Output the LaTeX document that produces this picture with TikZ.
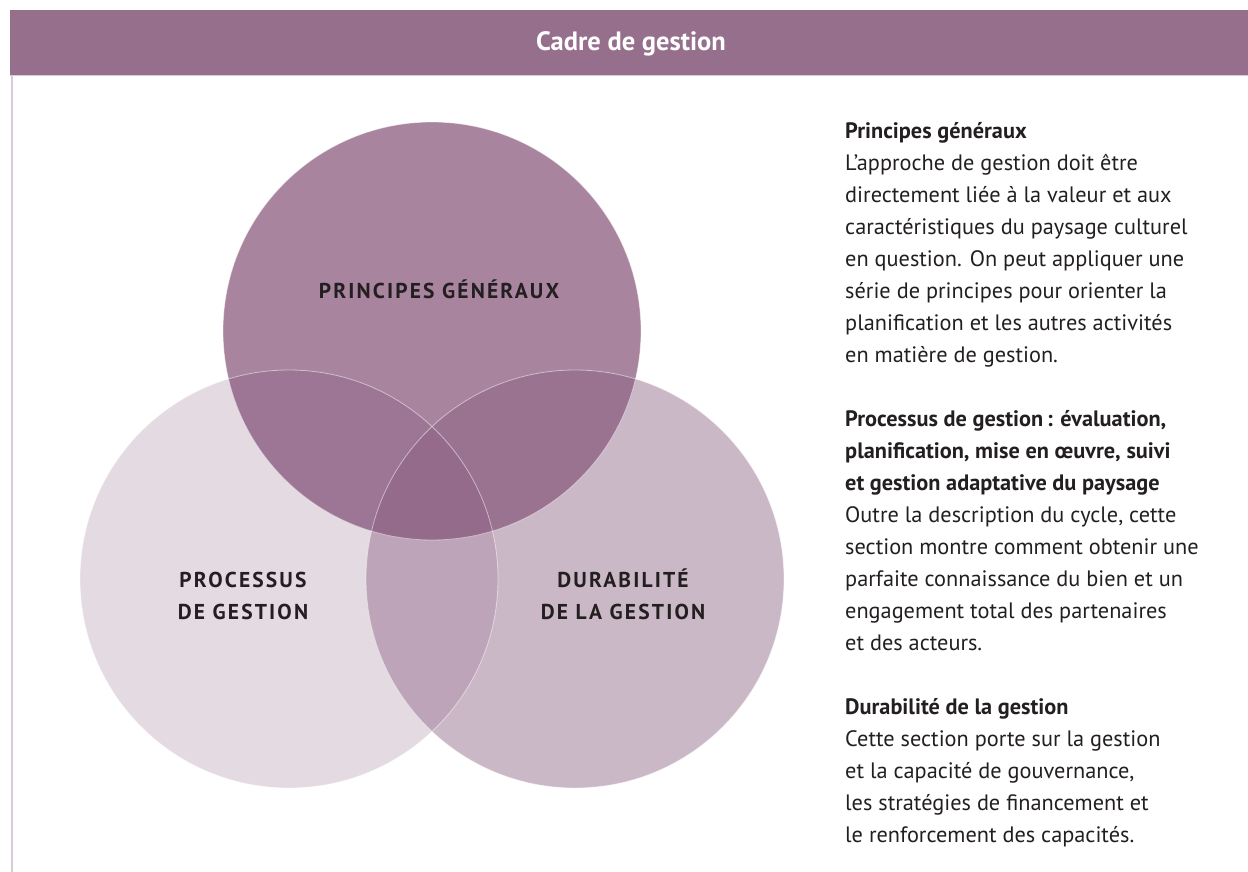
\documentclass[tikz,border=0pt]{standalone}
\usepackage{fontspec}
\setmainfont{PT Sans}
\newfontfamily\capsfont[LetterSpace=10]{PT Sans}
\definecolor{bandc}{HTML}{956F8B}
\definecolor{topc}{HTML}{A8849F}
\definecolor{leftc}{HTML}{E4DAE2}
\definecolor{rightc}{HTML}{CBB8C6}
\definecolor{tlc}{HTML}{9C7694}
\definecolor{trc}{HTML}{9A7391}
\definecolor{lrc}{HTML}{BDA4B8}
\definecolor{tlrc}{HTML}{946B8A}
\definecolor{ink}{HTML}{231F20}
\definecolor{rulec}{HTML}{D8CAD6}
\tikzset{
    circtext/.style={font=\capsfont\bfseries\fontsize{21.5}{32}\selectfont,text=ink,align=center,inner sep=0pt,anchor=base},
    bodytext/.style={font=\fontsize{22.3}{32}\selectfont,text=ink,align=left,inner sep=0pt,anchor=base west},
    rim/.style={white,opacity=0.5,line width=0.8pt}
}
\newcommand{\venndisc}[4]{
    \coordinate (#1) at (#2,#3);
    \fill[#4] (#1) circle (209pt);
}

\begin{document}
\begin{tikzpicture}[x=1pt,y=-1pt]
    \useasboundingbox (0,0) rectangle (1248,872);
    % title band and frame line
    \fill[bandc] (10,10) rectangle (1248,75);
    \draw[rulec,line width=1pt] (10,76) -- (1248,76);
    \draw[rulec,line width=1.5pt] (12,76) -- (12,872);
    \node[font=\bfseries\fontsize{26.5}{30}\selectfont,text=white,anchor=base,inner sep=0pt] (header) at (631,51) {Cadre de gestion};
    % the three discs
    \venndisc{lc}{289}{579}{leftc}
    \venndisc{rc}{575}{579}{rightc}
    \venndisc{tc}{432}{331}{topc}
    \begin{scope}
        \clip (lc) circle (209pt);
        \fill[lrc] (rc) circle (209pt);
    \end{scope}
    \begin{scope}
        \clip (tc) circle (209pt);
        \fill[tlc] (lc) circle (209pt);
        \fill[trc] (rc) circle (209pt);
        \clip (lc) circle (209pt);
        \fill[tlrc] (rc) circle (209pt);
    \end{scope}
    \draw[rim] (lc) circle (209pt);
    \draw[rim] (rc) circle (209pt);
    \draw[rim] (tc) circle (209pt);
    % labels: base anchor sits on the last line
    \node[circtext] (lbltop) at (439,298) {PRINCIPES GÉNÉRAUX};
    \node[circtext] (lblleft) at (243,619) {PROCESSUS\\DE GESTION};
    \node[circtext] (lblright) at (623,619) {DURABILITÉ\\DE LA GESTION};
    % right column
    \node[bodytext] (txtpg) at (845,362) {{\bfseries Principes généraux}\\
        L’approche de gestion doit être\\
        directement liée à la valeur et aux\\
        caractéristiques du paysage culturel\\
        en question. On peut appliquer une\\
        série de principes pour orienter la\\
        planification et les autres activités\\
        en matière de gestion.};
    \node[bodytext] (txtpr) at (845,650) {{\bfseries Processus de gestion\,: évaluation,}\\
        {\bfseries planification, mise en œuvre, suivi}\\
        {\bfseries et gestion adaptative du paysage}\\
        Outre la description du cycle, cette\\
        section montre comment obtenir une\\
        parfaite connaissance du bien et un\\
        engagement total des partenaires\\
        et des acteurs.};
    \node[bodytext] (txtdur) at (845,842) {{\bfseries Durabilité de la gestion}\\
        Cette section porte sur la gestion\\
        et la capacité de gouvernance,\\
        les stratégies de financement et\\
        le renforcement des capacités.};
\end{tikzpicture}
\end{document}
